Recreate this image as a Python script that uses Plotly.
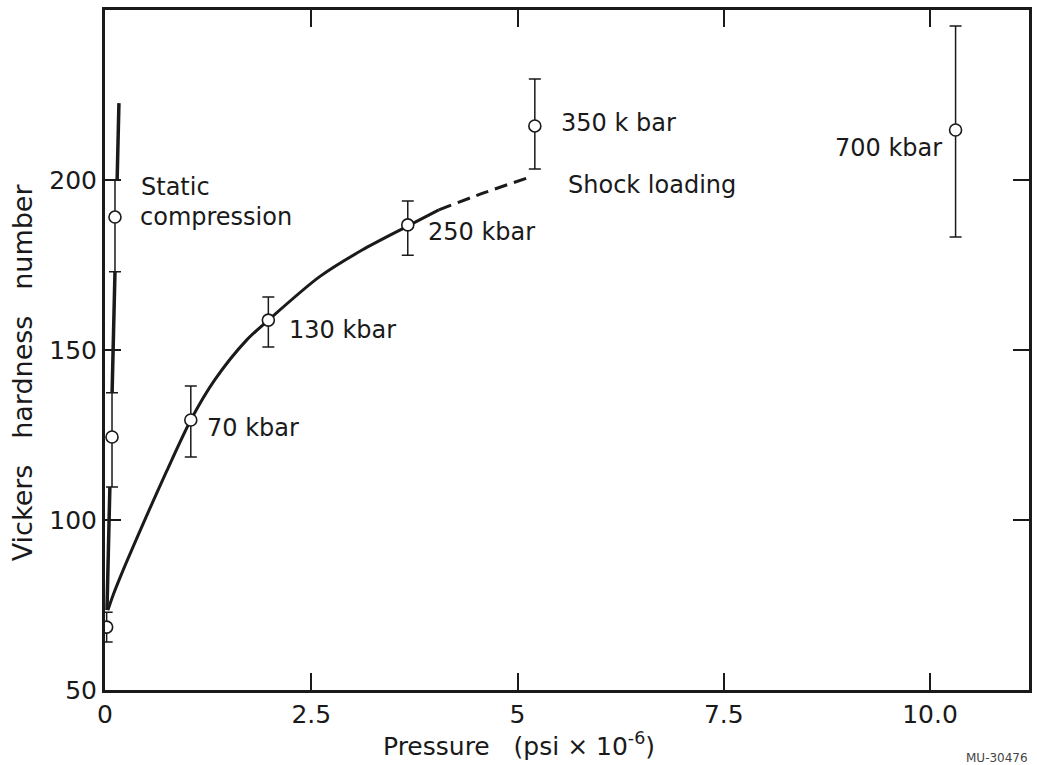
import plotly.graph_objects as go

# ---- data ----
# shock-loading points (pressure in psi x 1e-6, Vickers hardness)
shock_x = [0.02, 1.04, 1.98, 3.67, 5.21, 10.31]
shock_y = [68.5, 129.4, 158.8, 186.8, 215.9, 214.7]
shock_err_plus = [4.4, 10.0, 6.8, 7.0, 13.8, 30.6]
shock_err_minus = [4.4, 10.9, 7.9, 8.9, 12.7, 31.5]

# static-compression points
static_x = [0.085, 0.121]
static_y = [124.4, 189.1]
static_err_plus = [13.0, 10.9]
static_err_minus = [14.7, 16.1]

# fitted shock curve (solid part) and its dashed extension
curve_x = [0.036, 0.10, 0.25, 0.50, 0.75, 1.04, 1.33, 1.716, 1.981, 2.598, 3.117, 3.673, 4.047]
curve_y = [73.5, 78.0, 87.0, 101.0, 114.5, 129.4, 141.2, 152.9, 158.8, 171.5, 179.4, 186.5, 191.2]
dash_x = [4.047, 4.59, 5.16]
dash_y = [191.2, 196.2, 200.9]

# static compression line (drawn between the error bars)
static_line_x = [0.024, 0.059, None, 0.086, 0.121, None, 0.147, 0.169]
static_line_y = [73.5, 109.7, None, 137.4, 173.0, None, 200.0, 222.6]

# labels
label_text = ["350 k bar", "Shock loading", "250 kbar", "130 kbar", "70 kbar", "700 kbar"]
label_x = [5.50, 5.59, 3.89, 2.20, 1.21, 10.17]
label_y = [216.8, 198.5, 184.7, 155.9, 127.1, 209.4]
label_anchor = ["left", "left", "left", "left", "left", "right"]

x_tickvals = [0, 2.5, 5, 7.5, 10]
x_ticktext = ["0", "2.5", "5", "7.5", "10.0"]
y_tickvals = [50, 100, 150, 200]
y_ticktext = ["50", "100", "150", "200"]

FONT = "DejaVu Sans"
INK = "#1a1a1a"
NB = "\u00a0"

fig = go.Figure()

fig.add_trace(go.Scatter(x=curve_x, y=curve_y, mode="lines",
                         line=dict(color=INK, width=3, shape="spline", smoothing=0.8),
                         showlegend=False, hoverinfo="skip"))
fig.add_trace(go.Scatter(x=dash_x, y=dash_y, mode="lines",
                         line=dict(color=INK, width=3, dash="13px,7px", shape="spline"),
                         showlegend=False, hoverinfo="skip"))
fig.add_trace(go.Scatter(x=static_line_x, y=static_line_y, mode="lines",
                         line=dict(color=INK, width=3.5),
                         connectgaps=False, showlegend=False, hoverinfo="skip"))

marker = dict(symbol="circle", size=12, color="white", line=dict(color=INK, width=1.6))

fig.add_trace(go.Scatter(x=shock_x, y=shock_y, mode="markers", marker=marker,
                         error_y=dict(type="data", array=shock_err_plus, arrayminus=shock_err_minus,
                                      symmetric=False, color=INK, thickness=1.5, width=6),
                         showlegend=False))
fig.add_trace(go.Scatter(x=static_x, y=static_y, mode="markers", marker=marker,
                         error_y=dict(type="data", array=static_err_plus, arrayminus=static_err_minus,
                                      symmetric=False, color=INK, thickness=1.5, width=6),
                         showlegend=False))

LBL = 24
annotations = []
for t, x, y, a in zip(label_text, label_x, label_y, label_anchor):
    annotations.append(dict(x=x, y=y, xref="x", yref="y", text=t, showarrow=False,
                            xanchor=a, yanchor="middle",
                            font=dict(family=FONT, size=LBL, color=INK)))

# static compression label (two lines)
annotations.append(dict(x=0.41, y=197.9, xref="x", yref="y", text="Static", showarrow=False,
                        xanchor="left", yanchor="middle", font=dict(family=FONT, size=LBL, color=INK)))
annotations.append(dict(x=0.40, y=189.1, xref="x", yref="y", text="compression", showarrow=False,
                        xanchor="left", yanchor="middle", font=dict(family=FONT, size=LBL, color=INK)))

# axis titles (placed in pixels, converted below)
annotations.append(dict(x=22, y=372, text=f"Vickers{NB*3}hardness{NB*3}number",
                        showarrow=False, textangle=-90, xanchor="center", yanchor="middle",
                        font=dict(family=FONT, size=27, color=INK)))
annotations.append(dict(x=520, y=744, text=f"Pressure{NB*3}(psi × 10<sup>-6</sup>)",
                        showarrow=False, xanchor="center", yanchor="middle",
                        font=dict(family=FONT, size=25, color=INK)))
annotations.append(dict(x=1000, y=758, text="MU-30476",
                        showarrow=False, xanchor="center", yanchor="middle",
                        font=dict(family=FONT, size=12, color="#444")))

W, H = 1037, 765
L, R, T, B = 105, 5, 10, 75
pw, ph = W - L - R, H - T - B

for a in annotations[-3:]:
    a["xref"] = "paper"
    a["yref"] = "paper"
    a["x"] = (a["x"] - L) / pw
    a["y"] = (H - B - a["y"]) / ph

fig.update_layout(
    width=W, height=H,
    margin=dict(l=L, r=R, t=T, b=B),
    paper_bgcolor="white", plot_bgcolor="white",
    font=dict(family=FONT, color=INK),
    annotations=annotations,
    xaxis=dict(range=[0, 11.2], tickvals=x_tickvals, ticktext=x_ticktext,
               ticks="inside", ticklen=17, tickwidth=1.5, tickcolor=INK,
               showline=True, linewidth=3, linecolor=INK, mirror="ticks",
               showgrid=False, zeroline=False,
               tickfont=dict(family=FONT, size=25, color=INK)),
    yaxis=dict(range=[50, 250], tickvals=y_tickvals, ticktext=y_ticktext,
               ticks="inside", ticklen=16, tickwidth=1.5, tickcolor=INK,
               showline=True, linewidth=3, linecolor=INK, mirror="ticks",
               showgrid=False, zeroline=False,
               tickfont=dict(family=FONT, size=25, color=INK)),
)

fig.write_html("out.html")
